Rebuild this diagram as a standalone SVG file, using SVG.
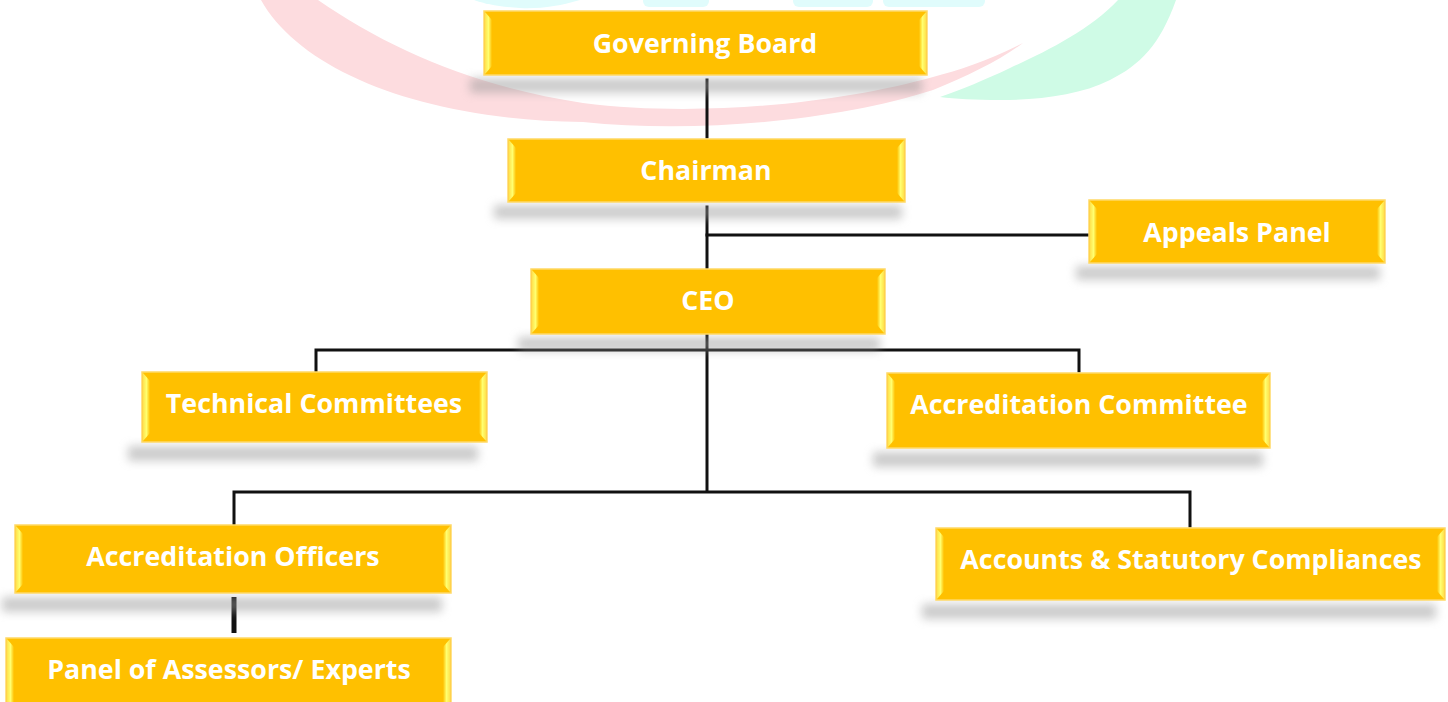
<svg xmlns="http://www.w3.org/2000/svg" width="1448" height="702" viewBox="0 0 1448 702">
<defs>
<style>
.box{fill:#FFC000;stroke:#FFD966;stroke-width:1.5}
.bev{fill:url(#bevL)}
.bevr{fill:url(#bevR)}
.lbl{font-family:"Open Sans","Liberation Sans",sans-serif;font-weight:bold;font-size:26.8px;fill:#FFFFFF;text-anchor:middle}
.sh{fill:#9a9a9a;opacity:0.5;filter:url(#blur)}
.conn{stroke:#111111;stroke-width:3;fill:none;stroke-linecap:square}
</style>
<linearGradient id="bevL" x1="0" y1="0" x2="1" y2="0">
<stop offset="0" stop-color="#FFE24D"/><stop offset="0.5" stop-color="#FFFF70"/><stop offset="1" stop-color="#FFC000"/>
</linearGradient>
<linearGradient id="bevR" x1="1" y1="0" x2="0" y2="0">
<stop offset="0" stop-color="#FFE24D"/><stop offset="0.5" stop-color="#FFFF70"/><stop offset="1" stop-color="#FFC000"/>
</linearGradient>
<filter id="blur" x="-10%" y="-150%" width="120%" height="400%"><feGaussianBlur stdDeviation="5"/></filter>
</defs>
<rect width="1448" height="702" fill="#FFFFFF"/>
<g id="watermark">
<path d="M261 0 C 300 70, 420 120, 583 122 C 700 134, 840 120, 933 90 C 970 75, 1000 60, 1023 43 C 990 60, 960 70, 933 77 C 840 103, 700 118, 583 103 C 480 88, 390 50, 318 0 Z" fill="#FDDCDF"/>
<path d="M1176 0 C 1160 45, 1140 65, 1110 80 C 1080 95, 1040 100, 1000 100 C 975 100, 955 99, 940 97 C 960 90, 985 80, 1010 68 C 1045 52, 1090 30, 1118 0 Z" fill="#CFFBE6"/>
<path d="M474 0 L 580 0 C 560 6, 540 9, 520 8 C 500 7, 485 4, 474 0 Z" fill="#E0FCFC"/>
<rect x="643" y="-6" width="66" height="13" rx="6" fill="#E0FCFC"/>
<rect x="793" y="-6" width="80" height="13" rx="6" fill="#E0FCFC"/>
<rect x="883" y="-6" width="102" height="13" rx="6" fill="#E0FCFC"/>
</g>
<g id="connectors">
<line class="conn" x1="707" y1="80" x2="707" y2="137"/>
<line class="conn" x1="707" y1="207" x2="707" y2="268"/>
<line class="conn" x1="707" y1="235" x2="1088" y2="235"/>
<line class="conn" x1="707" y1="335" x2="707" y2="491"/>
<polyline class="conn" points="316,371 316,350 1079,350 1079,371"/>
<polyline class="conn" points="234,524 234,492 1190,492 1190,526"/>
<line x1="234" y1="597" x2="234" y2="633" stroke="#111111" stroke-width="5"/>
</g>
<g id="governing-board">
<rect class="sh" x="470" y="78" width="452" height="15"/>
<rect class="box" x="484" y="11" width="443" height="64"/>
<polygon class="bev" points="485,12 492,20 492,66 485,74"/>
<polygon class="bevr" points="926,12 919,20 919,66 926,74"/>
<text class="lbl" x="705" y="53">Governing Board</text>
</g>
<g id="chairman">
<rect class="sh" x="494" y="205" width="408" height="14"/>
<rect class="box" x="508" y="139" width="397" height="63"/>
<polygon class="bev" points="509,140 516,148 516,193 509,201"/>
<polygon class="bevr" points="904,140 897,148 897,193 904,201"/>
<text class="lbl" x="706" y="180">Chairman</text>
</g>
<g id="appeals-panel">
<rect class="sh" x="1076" y="266" width="304" height="14"/>
<rect class="box" x="1089" y="200" width="296" height="63"/>
<polygon class="bev" points="1090,201 1097,209 1097,254 1090,262"/>
<polygon class="bevr" points="1384,201 1377,209 1377,254 1384,262"/>
<text class="lbl" x="1237" y="242">Appeals Panel</text>
</g>
<g id="ceo">
<rect class="sh" x="518" y="337" width="362" height="14"/>
<rect class="box" x="531" y="269" width="354" height="65"/>
<polygon class="bev" points="532,270 539,278 539,325 532,333"/>
<polygon class="bevr" points="884,270 877,278 877,325 884,333"/>
<text class="lbl" x="708" y="310">CEO</text>
</g>
<g id="technical-committees">
<rect class="sh" x="128" y="446" width="350" height="15"/>
<rect class="box" x="142" y="372" width="345" height="70"/>
<polygon class="bev" points="143,373 150,381 150,433 143,441"/>
<polygon class="bevr" points="486,373 479,381 479,433 486,441"/>
<text class="lbl" x="314" y="413">Technical Committees</text>
</g>
<g id="accreditation-committee">
<rect class="sh" x="873" y="452" width="390" height="15"/>
<rect class="box" x="887" y="373" width="383" height="75"/>
<polygon class="bev" points="888,374 895,382 895,439 888,447"/>
<polygon class="bevr" points="1269,374 1262,382 1262,439 1269,447"/>
<text class="lbl" x="1079" y="414">Accreditation Committee</text>
</g>
<g id="accreditation-officers">
<rect class="sh" x="2" y="597" width="440" height="15"/>
<rect class="box" x="15" y="525" width="436" height="68"/>
<polygon class="bev" points="16,526 23,534 23,584 16,592"/>
<polygon class="bevr" points="450,526 443,534 443,584 450,592"/>
<text class="lbl" x="233" y="566">Accreditation Officers</text>
</g>
<g id="accounts-statutory">
<rect class="sh" x="922" y="604" width="514" height="15"/>
<rect class="box" x="936" y="528" width="509" height="72"/>
<polygon class="bev" points="937,529 944,537 944,591 937,599"/>
<polygon class="bevr" points="1444,529 1437,537 1437,591 1444,599"/>
<text class="lbl" x="1191" y="569">Accounts &amp; Statutory Compliances</text>
</g>
<g id="panel-assessors">
<rect class="box" x="6" y="638" width="445" height="70"/>
<polygon class="bev" points="7,639 14,647 14,702 7,702"/>
<polygon class="bevr" points="450,639 443,647 443,702 450,702"/>
<text class="lbl" x="229" y="679">Panel of Assessors/ Experts</text>
</g>
</svg>
